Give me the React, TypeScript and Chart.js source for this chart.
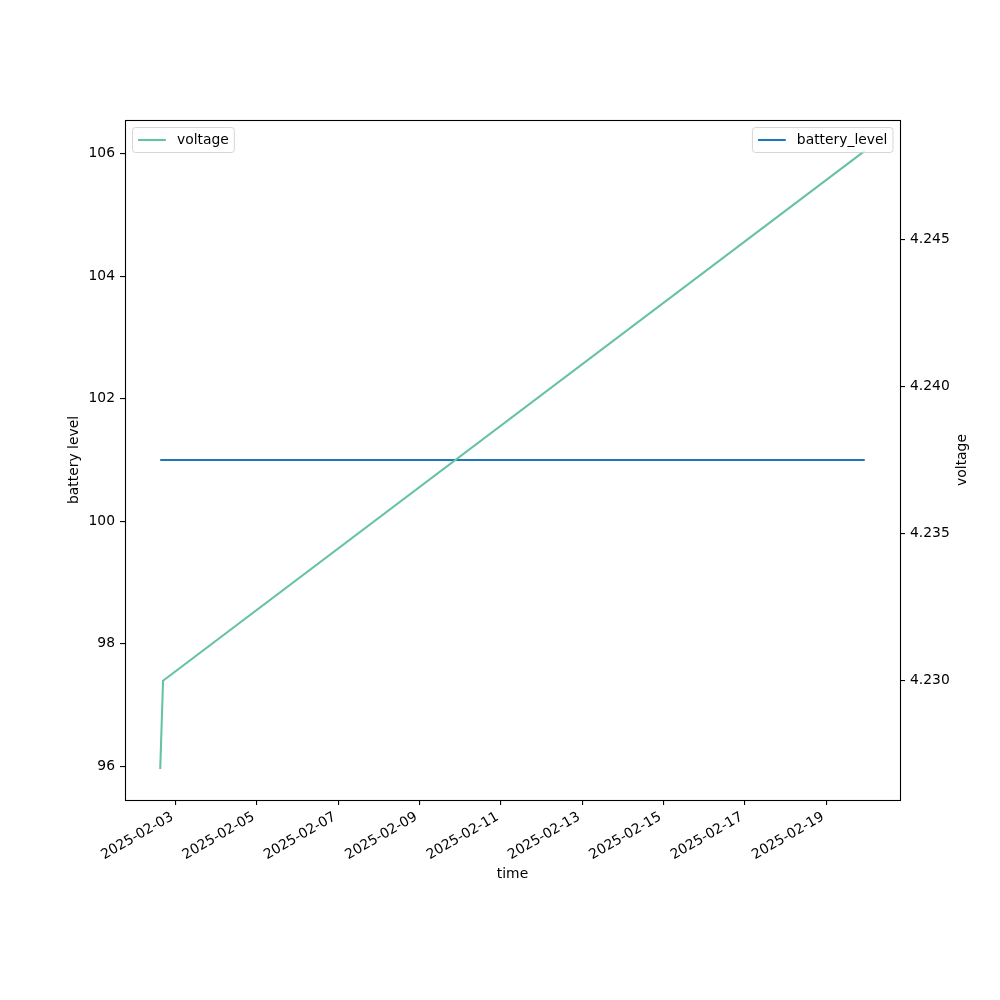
import { useEffect, useRef } from 'react';
import { Chart, registerables } from 'chart.js';

Chart.register(...registerables);

// ---- data ----
const times = ['2025-02-02T15:00:00Z', '2025-02-02T16:40:00Z', '2025-02-19T22:40:00Z'];
const voltage = [4.227, 4.23, 4.248];
const batteryLevel = [101, 101, 101];
const xTickDates = [
  '2025-02-03', '2025-02-05', '2025-02-07', '2025-02-09', '2025-02-11',
  '2025-02-13', '2025-02-15', '2025-02-17', '2025-02-19',
];
const leftTicks = [96, 98, 100, 102, 104, 106];
const rightTicks = [4.23, 4.235, 4.24, 4.245];
const leftLimits = [95.45, 106.55];

const FONT = '"DejaVu Sans", "Liberation Sans", sans-serif';
const FS = 13.89;
const GREEN = '#66c2a5';
const BLUE = '#1f77b4';

const toMs = (s: string) => new Date(s).getTime();
const tMs = times.map(toMs);
const xTickMs = xTickDates.map((d) => toMs(d + 'T00:00:00Z'));
const tMin = Math.min(...tMs);
const tMax = Math.max(...tMs);
const tPad = (tMax - tMin) * 0.05;
const vMin = Math.min(...voltage);
const vMax = Math.max(...voltage);
const vPad = (vMax - vMin) * 0.05;

const fmtDate = (ms: number) => {
  const d = new Date(ms);
  const mm = String(d.getUTCMonth() + 1).padStart(2, '0');
  const dd = String(d.getUTCDate()).padStart(2, '0');
  return `${d.getUTCFullYear()}-${mm}-${dd}`;
};

function drawLegend(ctx: CanvasRenderingContext2D, label: string, color: string, side: 'left' | 'right', area: any) {
  ctx.save();
  ctx.font = `${FS}px ${FONT}`;
  const tw = ctx.measureText(label).width;
  const pad = 0.4 * FS;
  const handle = 2 * FS;
  const gap = 0.8 * FS;
  const w = pad + handle + gap + tw + pad;
  const h = 25;
  const x = side === 'left' ? area.left + 7.5 : area.right - 7 - w;
  const y = area.top + 7.5;
  ctx.beginPath();
  (ctx as any).roundRect(x, y, w, h, 3);
  ctx.fillStyle = 'rgba(255,255,255,0.8)';
  ctx.fill();
  ctx.lineWidth = 1;
  ctx.strokeStyle = 'rgba(204,204,204,0.8)';
  ctx.stroke();
  const cy = y + h / 2;
  ctx.beginPath();
  ctx.moveTo(x + pad, cy);
  ctx.lineTo(x + pad + handle, cy);
  ctx.strokeStyle = color;
  ctx.lineWidth = 2.08;
  ctx.stroke();
  ctx.fillStyle = '#000';
  ctx.textAlign = 'left';
  ctx.textBaseline = 'middle';
  ctx.fillText(label, x + pad + handle + gap, cy + 0.5);
  ctx.restore();
}

const decorPlugin = {
  id: 'decor',
  afterDraw(chart: any) {
    const ctx: CanvasRenderingContext2D = chart.ctx;
    const a = chart.chartArea;
    const xs = chart.scales.x;
    ctx.save();
    // frame
    ctx.strokeStyle = '#000';
    ctx.lineWidth = 1.1;
    ctx.strokeRect(a.left + 0.5, a.top + 0.5, a.right - a.left, a.bottom - a.top);

    // x tick labels, rotated 30deg, right-aligned at tick (matplotlib style)
    ctx.font = `${FS}px ${FONT}`;
    ctx.fillStyle = '#000';
    ctx.textAlign = 'left';
    ctx.textBaseline = 'alphabetic';
    const c = Math.cos(Math.PI / 6);
    const s = Math.sin(Math.PI / 6);
    const boxH = 13.4;
    const desc = 2.9;
    const top = a.bottom + 10;
    xTickMs.forEach((v) => {
      const label = fmtDate(v);
      const px = xs.getPixelForValue(v);
      const w = ctx.measureText(label).width;
      const blx = px - w * c;
      const bly = top + w * s + boxH * c;
      const bx = blx - desc * s;
      const by = bly - desc * c;
      ctx.save();
      ctx.translate(bx, by);
      ctx.rotate(-Math.PI / 6);
      ctx.fillText(label, 0, 0);
      ctx.restore();
    });

    // axis titles
    ctx.textAlign = 'center';
    ctx.textBaseline = 'alphabetic';
    ctx.fillText('time', (a.left + a.right) / 2, 878);
    const cyMid = (a.top + a.bottom) / 2;
    ctx.save();
    ctx.translate(78.4, cyMid);
    ctx.rotate(-Math.PI / 2);
    ctx.fillText('battery level', 0, 0);
    ctx.restore();
    ctx.save();
    ctx.translate(966, cyMid);
    ctx.rotate(-Math.PI / 2);
    ctx.fillText('voltage', 0, 0);
    ctx.restore();
    ctx.restore();

    drawLegend(ctx, 'voltage', GREEN, 'left', a);
    drawLegend(ctx, 'battery_level', BLUE, 'right', a);
  },
};

export default function App() {
  const ref = useRef<HTMLCanvasElement | null>(null);
  useEffect(() => {
    if (!ref.current) return;
    const tickFont = { family: FONT, size: FS };
    const chart = new Chart(ref.current, {
      type: 'line',
      data: {
        datasets: [
          {
            label: 'voltage',
            data: tMs.map((t, i) => ({ x: t, y: voltage[i] })),
            borderColor: GREEN,
            backgroundColor: GREEN,
            borderWidth: 2.08,
            pointRadius: 0,
            tension: 0,
            yAxisID: 'y1',
          },
          {
            label: 'battery_level',
            data: tMs.map((t, i) => ({ x: t, y: batteryLevel[i] })),
            borderColor: BLUE,
            backgroundColor: BLUE,
            borderWidth: 2.08,
            pointRadius: 0,
            tension: 0,
            yAxisID: 'y',
          },
        ],
      },
      options: {
        animation: false,
        responsive: false,
        devicePixelRatio: 1,
        layout: { padding: { top: 120, left: 0, right: 0, bottom: 0 } },
        plugins: { legend: { display: false }, tooltip: { enabled: false }, title: { display: false } },
        scales: {
          x: {
            type: 'linear',
            position: 'bottom',
            min: tMin - tPad,
            max: tMax + tPad,
            afterBuildTicks: (sc: any) => {
              sc.ticks = xTickMs.map((v) => ({ value: v }));
            },
            afterFit: (sc: any) => {
              sc.height = 200;
            },
            ticks: {
              autoSkip: false,
              maxRotation: 0,
              minRotation: 0,
              color: 'rgba(0,0,0,0)',
              font: tickFont,
              callback: (v: any) => fmtDate(Number(v)),
            },
            grid: { drawOnChartArea: false, drawTicks: true, tickLength: 5, tickColor: '#000', lineWidth: 1.1 },
            border: { display: false },
          },
          y: {
            type: 'linear',
            position: 'left',
            min: leftLimits[0],
            max: leftLimits[1],
            afterBuildTicks: (sc: any) => {
              sc.ticks = leftTicks.map((v) => ({ value: v }));
            },
            afterFit: (sc: any) => {
              sc.width = 125;
            },
            ticks: {
              color: '#000',
              font: tickFont,
              padding: 5,
              callback: (v: any) => String(v),
            },
            grid: { drawOnChartArea: false, drawTicks: true, tickLength: 5, tickColor: '#000', lineWidth: 1.1 },
            border: { display: false },
          },
          y1: {
            type: 'linear',
            position: 'right',
            min: vMin - vPad,
            max: vMax + vPad,
            afterBuildTicks: (sc: any) => {
              sc.ticks = rightTicks.map((v) => ({ value: v }));
            },
            afterFit: (sc: any) => {
              sc.width = 100;
            },
            ticks: {
              color: '#000',
              font: tickFont,
              padding: 5,
              callback: (v: any) => Number(v).toFixed(3),
            },
            grid: { drawOnChartArea: false, drawTicks: true, tickLength: 5, tickColor: '#000', lineWidth: 1.1 },
            border: { display: false },
          },
        },
      },
      plugins: [decorPlugin],
    } as any);
    return () => chart.destroy();
  }, []);
  return (
    <div style={{ position: 'absolute', left: 0, top: 0, width: 1000, height: 1000, background: '#fff' }}>
      <canvas ref={ref} width={1000} height={1000} style={{ width: 1000, height: 1000, display: 'block' }} />
    </div>
  );
}
